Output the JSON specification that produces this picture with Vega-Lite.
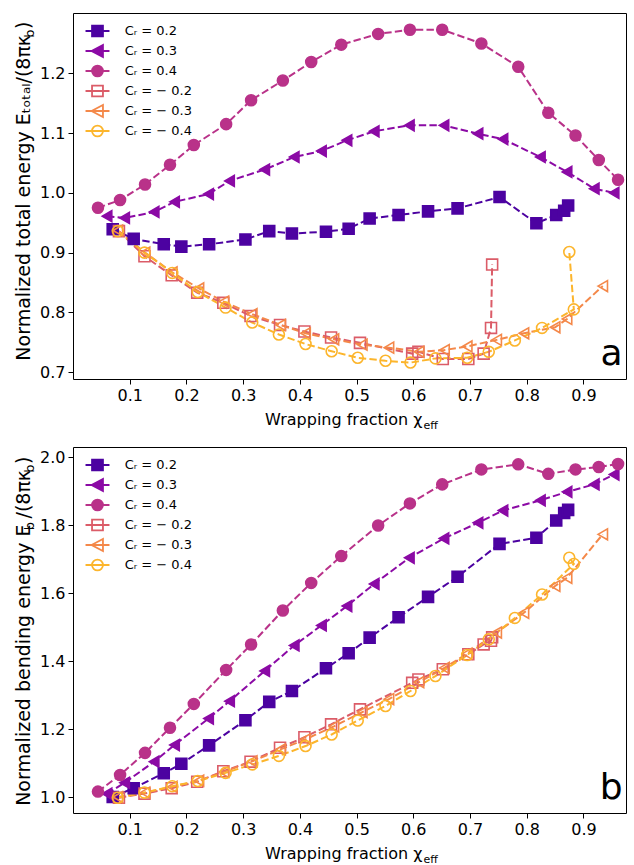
{
"$schema": "https://vega.github.io/schema/vega-lite/v6.json",
"padding": {"left": 13, "top": 12, "right": 5, "bottom": 5},
"data": {"values": [
{"s":"0.2","i":0,"x":0.07,"a":0.939,"b":1.0},{"s":"0.2","i":1,"x":0.107,"a":0.923,"b":1.026},{"s":"0.2","i":2,"x":0.16,"a":0.914,"b":1.07},{"s":"0.2","i":3,"x":0.191,"a":0.91,"b":1.098},{"s":"0.2","i":4,"x":0.24,"a":0.914,"b":1.152},{"s":"0.2","i":5,"x":0.304,"a":0.922,"b":1.226},{"s":"0.2","i":6,"x":0.346,"a":0.936,"b":1.28},{"s":"0.2","i":7,"x":0.386,"a":0.932,"b":1.312},{"s":"0.2","i":8,"x":0.446,"a":0.935,"b":1.379},{"s":"0.2","i":9,"x":0.486,"a":0.94,"b":1.423},{"s":"0.2","i":10,"x":0.523,"a":0.957,"b":1.469},{"s":"0.2","i":11,"x":0.574,"a":0.963,"b":1.529},{"s":"0.2","i":12,"x":0.626,"a":0.969,"b":1.589},{"s":"0.2","i":13,"x":0.678,"a":0.974,"b":1.648},{"s":"0.2","i":14,"x":0.752,"a":0.993,"b":1.745},{"s":"0.2","i":15,"x":0.817,"a":0.949,"b":1.763},{"s":"0.2","i":16,"x":0.852,"a":0.963,"b":1.814},{"s":"0.2","i":17,"x":0.866,"a":0.97,"b":1.836},{"s":"0.2","i":18,"x":0.873,"a":0.979,"b":1.845},
{"s":"0.3","i":0,"x":0.06,"a":0.961,"b":1.01},{"s":"0.3","i":1,"x":0.091,"a":0.958,"b":1.042},{"s":"0.3","i":2,"x":0.143,"a":0.968,"b":1.104},{"s":"0.3","i":3,"x":0.179,"a":0.985,"b":1.153},{"s":"0.3","i":4,"x":0.239,"a":0.998,"b":1.231},{"s":"0.3","i":5,"x":0.276,"a":1.02,"b":1.282},{"s":"0.3","i":6,"x":0.338,"a":1.039,"b":1.371},{"s":"0.3","i":7,"x":0.39,"a":1.06,"b":1.446},{"s":"0.3","i":8,"x":0.438,"a":1.07,"b":1.505},{"s":"0.3","i":9,"x":0.483,"a":1.088,"b":1.562},{"s":"0.3","i":10,"x":0.531,"a":1.103,"b":1.627},{"s":"0.3","i":11,"x":0.593,"a":1.113,"b":1.704},{"s":"0.3","i":12,"x":0.654,"a":1.113,"b":1.761},{"s":"0.3","i":13,"x":0.714,"a":1.099,"b":1.807},{"s":"0.3","i":14,"x":0.758,"a":1.09,"b":1.843},{"s":"0.3","i":15,"x":0.824,"a":1.06,"b":1.873},{"s":"0.3","i":16,"x":0.871,"a":1.035,"b":1.898},{"s":"0.3","i":17,"x":0.919,"a":1.007,"b":1.92},{"s":"0.3","i":18,"x":0.954,"a":1.0,"b":1.949},
{"s":"0.4","i":0,"x":0.044,"a":0.975,"b":1.016},{"s":"0.4","i":1,"x":0.083,"a":0.988,"b":1.065},{"s":"0.4","i":2,"x":0.127,"a":1.014,"b":1.13},{"s":"0.4","i":3,"x":0.171,"a":1.047,"b":1.204},{"s":"0.4","i":4,"x":0.213,"a":1.08,"b":1.274},{"s":"0.4","i":5,"x":0.27,"a":1.115,"b":1.374},{"s":"0.4","i":6,"x":0.314,"a":1.155,"b":1.449},{"s":"0.4","i":7,"x":0.37,"a":1.188,"b":1.549},{"s":"0.4","i":8,"x":0.42,"a":1.219,"b":1.63},{"s":"0.4","i":9,"x":0.473,"a":1.248,"b":1.709},{"s":"0.4","i":10,"x":0.538,"a":1.266,"b":1.799},{"s":"0.4","i":11,"x":0.594,"a":1.273,"b":1.864},{"s":"0.4","i":12,"x":0.651,"a":1.273,"b":1.92},{"s":"0.4","i":13,"x":0.72,"a":1.25,"b":1.964},{"s":"0.4","i":14,"x":0.785,"a":1.211,"b":1.979},{"s":"0.4","i":15,"x":0.838,"a":1.134,"b":1.951},{"s":"0.4","i":16,"x":0.886,"a":1.096,"b":1.964},{"s":"0.4","i":17,"x":0.927,"a":1.055,"b":1.971},{"s":"0.4","i":18,"x":0.961,"a":1.022,"b":1.98},
{"s":"-0.2","i":0,"x":0.081,"a":0.936,"b":0.998},{"s":"-0.2","i":1,"x":0.126,"a":0.894,"b":1.01},{"s":"-0.2","i":2,"x":0.174,"a":0.862,"b":1.026},{"s":"-0.2","i":3,"x":0.219,"a":0.833,"b":1.045},{"s":"-0.2","i":4,"x":0.265,"a":0.816,"b":1.076},{"s":"-0.2","i":5,"x":0.313,"a":0.794,"b":1.104},{"s":"-0.2","i":6,"x":0.365,"a":0.779,"b":1.145},{"s":"-0.2","i":7,"x":0.408,"a":0.768,"b":1.176},{"s":"-0.2","i":8,"x":0.455,"a":0.758,"b":1.214},{"s":"-0.2","i":9,"x":0.506,"a":0.749,"b":1.258},{"s":"-0.2","i":10,"x":0.598,"a":0.731,"b":1.336},{"s":"-0.2","i":11,"x":0.609,"a":0.734,"b":1.346},{"s":"-0.2","i":12,"x":0.652,"a":0.722,"b":1.376},{"s":"-0.2","i":13,"x":0.697,"a":0.722,"b":1.42},{"s":"-0.2","i":14,"x":0.724,"a":0.731,"b":1.449},{"s":"-0.2","i":15,"x":0.737,"a":0.774,"b":1.46},{"s":"-0.2","i":16,"x":0.739,"a":0.88,"b":1.47},
{"s":"-0.3","i":0,"x":0.079,"a":0.937,"b":1.0},{"s":"-0.3","i":1,"x":0.127,"a":0.9,"b":1.013},{"s":"-0.3","i":2,"x":0.175,"a":0.867,"b":1.03},{"s":"-0.3","i":3,"x":0.222,"a":0.84,"b":1.048},{"s":"-0.3","i":4,"x":0.266,"a":0.818,"b":1.074},{"s":"-0.3","i":5,"x":0.316,"a":0.797,"b":1.105},{"s":"-0.3","i":6,"x":0.366,"a":0.779,"b":1.14},{"s":"-0.3","i":7,"x":0.41,"a":0.765,"b":1.17},{"s":"-0.3","i":8,"x":0.46,"a":0.755,"b":1.208},{"s":"-0.3","i":9,"x":0.51,"a":0.746,"b":1.25},{"s":"-0.3","i":10,"x":0.557,"a":0.741,"b":1.288},{"s":"-0.3","i":11,"x":0.61,"a":0.734,"b":1.338},{"s":"-0.3","i":12,"x":0.655,"a":0.737,"b":1.38},{"s":"-0.3","i":13,"x":0.695,"a":0.743,"b":1.422},{"s":"-0.3","i":14,"x":0.747,"a":0.754,"b":1.484},{"s":"-0.3","i":15,"x":0.795,"a":0.765,"b":1.542},{"s":"-0.3","i":16,"x":0.85,"a":0.775,"b":1.621},{"s":"-0.3","i":17,"x":0.871,"a":0.789,"b":1.645},{"s":"-0.3","i":18,"x":0.934,"a":0.844,"b":1.773},
{"s":"-0.4","i":0,"x":0.079,"a":0.936,"b":0.998},{"s":"-0.4","i":1,"x":0.126,"a":0.9,"b":1.013},{"s":"-0.4","i":2,"x":0.175,"a":0.866,"b":1.032},{"s":"-0.4","i":3,"x":0.22,"a":0.834,"b":1.047},{"s":"-0.4","i":4,"x":0.269,"a":0.808,"b":1.071},{"s":"-0.4","i":5,"x":0.316,"a":0.783,"b":1.096},{"s":"-0.4","i":6,"x":0.363,"a":0.763,"b":1.121},{"s":"-0.4","i":7,"x":0.41,"a":0.747,"b":1.15},{"s":"-0.4","i":8,"x":0.456,"a":0.735,"b":1.184},{"s":"-0.4","i":9,"x":0.502,"a":0.724,"b":1.225},{"s":"-0.4","i":10,"x":0.551,"a":0.719,"b":1.268},{"s":"-0.4","i":11,"x":0.595,"a":0.716,"b":1.312},{"s":"-0.4","i":12,"x":0.639,"a":0.723,"b":1.356},{"s":"-0.4","i":13,"x":0.695,"a":0.724,"b":1.418},{"s":"-0.4","i":14,"x":0.733,"a":0.734,"b":1.464},{"s":"-0.4","i":15,"x":0.779,"a":0.753,"b":1.527},{"s":"-0.4","i":16,"x":0.827,"a":0.774,"b":1.596},{"s":"-0.4","i":17,"x":0.883,"a":0.805,"b":1.686},{"s":"-0.4","i":18,"x":0.875,"a":0.901,"b":1.704}
]},
"spacing": 68,
"bounds": "flush",
"vconcat": [
{
 "width": 553, "height": 366,
 "layer": [
  {
   "mark": {"type": "line", "strokeDash": [7.4, 3.2], "strokeWidth": 2},
   "encoding": {
    "x": {"field": "x", "type": "quantitative", "scale": {"domain": [0, 0.975], "nice": false, "zero": false},
          "axis": {"orient": "bottom", "values": [0.1,0.2,0.3,0.4,0.5,0.6,0.7,0.8,0.9], "format": ".1f", "title": "Wrapping fraction χ", "titleX": 349, "titleY": 45, "titleAlign": "right", "titleBaseline": "alphabetic"}},
    "y": {"field": "a", "type": "quantitative", "scale": {"domain": [0.6885, 1.301], "nice": false, "zero": false},
          "axis": {"orient": "left", "values": [0.7,0.8,0.9,1.0,1.1,1.2], "format": ".1f", "title": "Normalized total energy Eₜₒₜₐₗ/(8πκ )", "titleFontSize": 19, "titleX": -44, "titleY": 8, "titleAngle": -90, "titleAlign": "right", "titleBaseline": "alphabetic"}},
    "stroke": {"field": "s", "type": "nominal", "scale": {"domain": ["0.2","0.3","0.4","-0.2","-0.3","-0.4"], "range": ["#4c02a1","#8b0aa5","#b93289","#db5c68","#f48849","#fcb52c"]}, "legend": null},
    "order": {"field": "i", "type": "quantitative"}
   }
  },
  {
   "mark": {"type": "point", "size": 120, "strokeWidth": 1.6, "opacity": 1},
   "encoding": {
    "x": {"field": "x", "type": "quantitative", "scale": {"domain": [0, 0.975], "nice": false, "zero": false},
          "axis": {"orient": "bottom", "title": "eff", "labels": false, "ticks": false, "domain": false, "titleFontSize": 11, "titleX": 350, "titleY": 49, "titleAlign": "left", "titleBaseline": "alphabetic"}},
    "y": {"field": "a", "type": "quantitative", "scale": {"domain": [0.6885, 1.301], "nice": false, "zero": false},
          "axis": {"orient": "left", "title": "b", "labels": false, "ticks": false, "domain": false, "titleFontSize": 13, "titleX": -39.5, "titleY": 20, "titleAngle": -90, "titleAlign": "center", "titleBaseline": "alphabetic"}},
    "shape": {"field": "s", "type": "nominal", "scale": {"domain": ["0.2","0.3","0.4","-0.2","-0.3","-0.4"], "range": ["square","triangle-left","circle","square","triangle-left","circle"]}, "legend": null},
    "stroke": {"field": "s", "type": "nominal", "scale": {"domain": ["0.2","0.3","0.4","-0.2","-0.3","-0.4"], "range": ["#4c02a1","#8b0aa5","#b93289","#db5c68","#f48849","#fcb52c"]}, "legend": null},
    "fill": {"field": "s", "type": "nominal", "scale": {"domain": ["0.2","0.3","0.4","-0.2","-0.3","-0.4"], "range": ["#4c02a1","#8b0aa5","#b93289","transparent","transparent","transparent"]}, "legend": null}
   }
  },
  {
   "transform": [{"filter": "false"}],
   "mark": {"type": "point", "opacity": 1, "strokeWidth": 1.8},
   "encoding": {
    "x": {"field": "x", "type": "quantitative", "scale": {"domain": [0, 0.975], "nice": false, "zero": false}, "axis": null},
    "y": {"field": "a", "type": "quantitative", "scale": {"domain": [0.6885, 1.301], "nice": false, "zero": false}, "axis": null},
    "shape": {"field": "s", "type": "nominal", "scale": {"domain": ["0.2","0.3","0.4","-0.2","-0.3","-0.4"], "range": ["M-1.36,0H1.36M-0.62,-0.62H0.62V0.62H-0.62Z","M-1.36,0H1.36M-0.68,0L0.62,-0.68L0.62,0.68Z","M-1.36,0H1.36M0.62,0A0.62,0.62,0,1,1,-0.62,0A0.62,0.62,0,1,1,0.62,0Z","M-1.36,0H1.36M-0.62,-0.62H0.62V0.62H-0.62Z","M-1.36,0H1.36M-0.68,0L0.62,-0.68L0.62,0.68Z","M-1.36,0H1.36M0.62,0A0.62,0.62,0,1,1,-0.62,0A0.62,0.62,0,1,1,0.62,0Z"]},
              "legend": {"orient": "none", "legendX": 14.5, "legendY": 8, "padding": 0, "title": null, "symbolSize": 310, "symbolStrokeWidth": 1.8, "labelFontSize": 13, "labelOffset": 17.2, "rowPadding": 0, "labelExpr": "'Cᵣ = ' + replace(datum.label, '-', '− ')"}},
    "stroke": {"field": "s", "type": "nominal", "scale": {"domain": ["0.2","0.3","0.4","-0.2","-0.3","-0.4"], "range": ["#4c02a1","#8b0aa5","#b93289","#db5c68","#f48849","#fcb52c"]},
              "legend": {"orient": "none", "legendX": 14.5, "legendY": 8, "padding": 0, "title": null, "symbolSize": 310, "symbolStrokeWidth": 1.8, "labelFontSize": 13, "labelOffset": 17.2, "rowPadding": 0, "labelExpr": "'Cᵣ = ' + replace(datum.label, '-', '− ')"}},
    "fill": {"field": "s", "type": "nominal", "scale": {"domain": ["0.2","0.3","0.4","-0.2","-0.3","-0.4"], "range": ["#4c02a1","#8b0aa5","#b93289","transparent","transparent","transparent"]},
              "legend": {"orient": "none", "legendX": 14.5, "legendY": 8, "padding": 0, "title": null, "symbolSize": 310, "symbolStrokeWidth": 1.8, "labelFontSize": 13, "labelOffset": 17.2, "rowPadding": 0, "labelExpr": "'Cᵣ = ' + replace(datum.label, '-', '− ')"}}
   }
  },
  {
   "data": {"values": [{}]},
   "mark": {"type": "text", "fontSize": 36, "align": "right", "baseline": "alphabetic", "font": "DejaVu Sans", "color": "#000"},
   "encoding": {
    "x": {"datum": 0.969, "type": "quantitative", "scale": {"domain": [0, 0.975], "nice": false, "zero": false}, "axis": null},
    "y": {"datum": 0.712, "type": "quantitative", "scale": {"domain": [0.6885, 1.301], "nice": false, "zero": false}, "axis": null},
    "text": {"value": "a"}
   }
  }
 ],
 "resolve": {"scale": {"shape": "independent", "fill": "independent", "stroke": "independent"}, "axis": {"x": "independent", "y": "independent"}}
},
{
 "width": 553, "height": 366,
 "layer": [
  {
   "mark": {"type": "line", "strokeDash": [7.4, 3.2], "strokeWidth": 2},
   "encoding": {
    "x": {"field": "x", "type": "quantitative", "scale": {"domain": [0, 0.975], "nice": false, "zero": false},
          "axis": {"orient": "bottom", "values": [0.1,0.2,0.3,0.4,0.5,0.6,0.7,0.8,0.9], "format": ".1f", "title": "Wrapping fraction χ", "titleX": 349, "titleY": 45, "titleAlign": "right", "titleBaseline": "alphabetic"}},
    "y": {"field": "b", "type": "quantitative", "scale": {"domain": [0.953, 2.03], "nice": false, "zero": false},
          "axis": {"orient": "left", "values": [1.0,1.2,1.4,1.6,1.8,2.0], "format": ".1f", "title": "Normalized bending energy E /(8πκ )", "titleFontSize": 19, "titleX": -44, "titleY": 9, "titleAngle": -90, "titleAlign": "right", "titleBaseline": "alphabetic"}},
    "stroke": {"field": "s", "type": "nominal", "scale": {"domain": ["0.2","0.3","0.4","-0.2","-0.3","-0.4"], "range": ["#4c02a1","#8b0aa5","#b93289","#db5c68","#f48849","#fcb52c"]}, "legend": null},
    "order": {"field": "i", "type": "quantitative"}
   }
  },
  {
   "mark": {"type": "point", "size": 120, "strokeWidth": 1.6, "opacity": 1},
   "encoding": {
    "x": {"field": "x", "type": "quantitative", "scale": {"domain": [0, 0.975], "nice": false, "zero": false},
          "axis": {"orient": "bottom", "title": "eff", "labels": false, "ticks": false, "domain": false, "titleFontSize": 11, "titleX": 350, "titleY": 49, "titleAlign": "left", "titleBaseline": "alphabetic"}},
    "y": {"field": "b", "type": "quantitative", "scale": {"domain": [0.953, 2.03], "nice": false, "zero": false},
          "axis": {"orient": "left", "title": "b", "labels": false, "ticks": false, "domain": false, "titleFontSize": 13, "titleX": -39.5, "titleY": 78.5, "titleAngle": -90, "titleAlign": "center", "titleBaseline": "alphabetic"}},
    "shape": {"field": "s", "type": "nominal", "scale": {"domain": ["0.2","0.3","0.4","-0.2","-0.3","-0.4"], "range": ["square","triangle-left","circle","square","triangle-left","circle"]}, "legend": null},
    "stroke": {"field": "s", "type": "nominal", "scale": {"domain": ["0.2","0.3","0.4","-0.2","-0.3","-0.4"], "range": ["#4c02a1","#8b0aa5","#b93289","#db5c68","#f48849","#fcb52c"]}, "legend": null},
    "fill": {"field": "s", "type": "nominal", "scale": {"domain": ["0.2","0.3","0.4","-0.2","-0.3","-0.4"], "range": ["#4c02a1","#8b0aa5","#b93289","transparent","transparent","transparent"]}, "legend": null}
   }
  },
  {
   "transform": [{"filter": "false"}],
   "mark": {"type": "point", "opacity": 1, "strokeWidth": 1.8},
   "encoding": {
    "x": {"field": "x", "type": "quantitative", "scale": {"domain": [0, 0.975], "nice": false, "zero": false}, "axis": null},
    "y": {"field": "b", "type": "quantitative", "scale": {"domain": [0.953, 2.03], "nice": false, "zero": false},
          "axis": {"orient": "left", "title": "b", "labels": false, "ticks": false, "domain": false, "titleFontSize": 13, "titleX": -39.5, "titleY": 21, "titleAngle": -90, "titleAlign": "center", "titleBaseline": "alphabetic"}},
    "shape": {"field": "s", "type": "nominal", "scale": {"domain": ["0.2","0.3","0.4","-0.2","-0.3","-0.4"], "range": ["M-1.36,0H1.36M-0.62,-0.62H0.62V0.62H-0.62Z","M-1.36,0H1.36M-0.68,0L0.62,-0.68L0.62,0.68Z","M-1.36,0H1.36M0.62,0A0.62,0.62,0,1,1,-0.62,0A0.62,0.62,0,1,1,0.62,0Z","M-1.36,0H1.36M-0.62,-0.62H0.62V0.62H-0.62Z","M-1.36,0H1.36M-0.68,0L0.62,-0.68L0.62,0.68Z","M-1.36,0H1.36M0.62,0A0.62,0.62,0,1,1,-0.62,0A0.62,0.62,0,1,1,0.62,0Z"]},
              "legend": {"orient": "none", "legendX": 14.5, "legendY": 8, "padding": 0, "title": null, "symbolSize": 310, "symbolStrokeWidth": 1.8, "labelFontSize": 13, "labelOffset": 17.2, "rowPadding": 0, "labelExpr": "'Cᵣ = ' + replace(datum.label, '-', '− ')"}},
    "stroke": {"field": "s", "type": "nominal", "scale": {"domain": ["0.2","0.3","0.4","-0.2","-0.3","-0.4"], "range": ["#4c02a1","#8b0aa5","#b93289","#db5c68","#f48849","#fcb52c"]},
              "legend": {"orient": "none", "legendX": 14.5, "legendY": 8, "padding": 0, "title": null, "symbolSize": 310, "symbolStrokeWidth": 1.8, "labelFontSize": 13, "labelOffset": 17.2, "rowPadding": 0, "labelExpr": "'Cᵣ = ' + replace(datum.label, '-', '− ')"}},
    "fill": {"field": "s", "type": "nominal", "scale": {"domain": ["0.2","0.3","0.4","-0.2","-0.3","-0.4"], "range": ["#4c02a1","#8b0aa5","#b93289","transparent","transparent","transparent"]},
              "legend": {"orient": "none", "legendX": 14.5, "legendY": 8, "padding": 0, "title": null, "symbolSize": 310, "symbolStrokeWidth": 1.8, "labelFontSize": 13, "labelOffset": 17.2, "rowPadding": 0, "labelExpr": "'Cᵣ = ' + replace(datum.label, '-', '− ')"}}
   }
  },
  {
   "data": {"values": [{}]},
   "mark": {"type": "text", "fontSize": 36, "align": "right", "baseline": "alphabetic", "font": "DejaVu Sans", "color": "#000"},
   "encoding": {
    "x": {"datum": 0.969, "type": "quantitative", "scale": {"domain": [0, 0.975], "nice": false, "zero": false}, "axis": null},
    "y": {"datum": 0.994, "type": "quantitative", "scale": {"domain": [0.953, 2.03], "nice": false, "zero": false}, "axis": null},
    "text": {"value": "b"}
   }
  }
 ],
 "resolve": {"scale": {"shape": "independent", "fill": "independent", "stroke": "independent"}, "axis": {"x": "independent", "y": "independent"}}
}
],
"config": {
 "view": {"stroke": "#000", "strokeWidth": 1},
 "font": "DejaVu Sans",
 "axis": {"labelFont": "DejaVu Sans", "labelFontSize": 16, "labelColor": "#000", "tickColor": "#000", "tickSize": 5, "tickWidth": 1, "domain": false, "grid": false, "titleFont": "DejaVu Sans", "titleFontSize": 16, "titleFontWeight": "normal", "titleColor": "#000", "labelPadding": 3},
 "legend": {"labelFont": "DejaVu Sans", "labelColor": "#000"}
}
}
